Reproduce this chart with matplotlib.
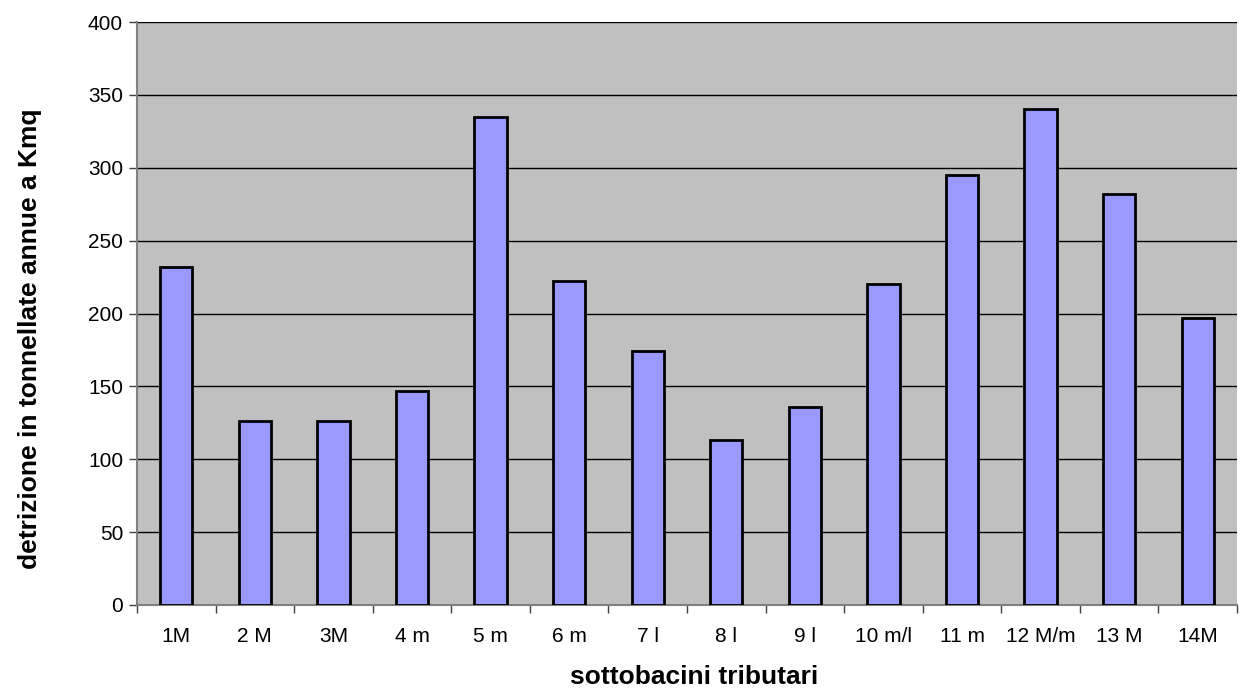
import matplotlib
matplotlib.use("Agg")
import matplotlib.pyplot as plt
import numpy as np

categories = ["1M", "2 M", "3M", "4 m", "5 m", "6 m", "7 l", "8 l", "9 l",
              "10 m/l", "11 m", "12 M/m", "13 M", "14M"]
values = [232, 126, 126, 147, 335, 222, 174, 113, 136, 220, 295, 340, 282, 197]

plt.rcParams['font.family'] = ['Liberation Sans', 'DejaVu Sans']

W, H = 1241, 688
fig = plt.figure(figsize=(W / 100, H / 100), dpi=100)
ax = fig.add_axes([137 / W, 1 - 605 / H, (1237 - 137) / W, (605 - 22) / H])
ax.set_facecolor("#C0C0C0")

x = np.arange(len(categories))
ax.bar(x, values, width=0.41, color="#9999FF", edgecolor="black", linewidth=2, zorder=3)

ax.set_xlim(-0.5, len(categories) - 0.5)
ax.set_ylim(0, 400)
ax.set_yticks(np.arange(0, 401, 50))
ax.yaxis.grid(True, color="black", linewidth=1, zorder=1)
ax.set_axisbelow(True)

ax.set_xticks(x)
ax.set_xticklabels(categories, fontsize=15)
ax.set_xticks(np.arange(-0.5, len(categories), 1), minor=True)
ax.tick_params(axis="x", which="major", length=0, pad=16)
ax.tick_params(axis="x", which="minor", length=6, width=1, color="#404040", direction="out")
ax.tick_params(axis="y", length=6, width=1, color="#404040", labelsize=15, pad=4)

for s in ["top", "right"]:
    ax.spines[s].set_visible(False)
for s in ["left", "bottom"]:
    ax.spines[s].set_color("#808080")
    ax.spines[s].set_linewidth(1.5)

fig.text(694 / W, 1 - 677 / H, "sottobacini tributari", fontsize=19, fontweight="bold",
         ha="center", va="center")
fig.text(30 / W, 1 - 339 / H, "detrizione in tonnellate annue a Kmq", fontsize=19,
         fontweight="bold", rotation=90, ha="center", va="center")

fig.savefig("out.png", dpi=100)
